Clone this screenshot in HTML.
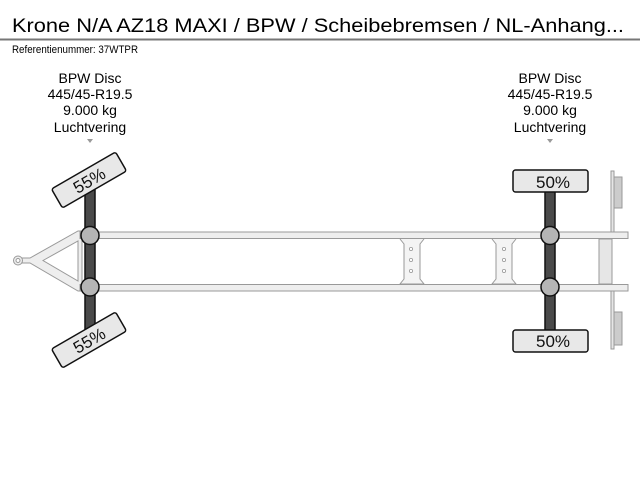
<!DOCTYPE html>
<html><head><meta charset="utf-8"><style>
html,body{margin:0;padding:0;background:#fff;width:640px;height:480px;overflow:hidden}
svg{display:block}
text{font-family:"Liberation Sans",sans-serif}
</style></head><body>
<svg width="640" height="480" viewBox="0 0 640 480" xmlns="http://www.w3.org/2000/svg">
<text x="12" y="32" font-size="19" textLength="612" lengthAdjust="spacingAndGlyphs" fill="#000">Krone N/A AZ18 MAXI / BPW / Scheibebremsen / NL-Anhang...</text>
<rect x="0" y="38.5" width="640" height="2" fill="#777"/>
<text x="12" y="53" font-size="11" textLength="126" lengthAdjust="spacingAndGlyphs" fill="#000">Referentienummer: 37WTPR</text>

<g font-size="14" text-anchor="middle" fill="#000">
<text x="90" y="83">BPW Disc</text>
<text x="90" y="99">445/45-R19.5</text>
<text x="90" y="115">9.000 kg</text>
<text x="90" y="132">Luchtvering</text>
<text x="550" y="83">BPW Disc</text>
<text x="550" y="99">445/45-R19.5</text>
<text x="550" y="115">9.000 kg</text>
<text x="550" y="132">Luchtvering</text>
</g>
<polygon points="87,139 93,139 90,143" fill="#999"/>
<polygon points="547,139 553,139 550,143" fill="#999"/>

<!-- drawbar -->
<g fill="#eee" stroke="#999" stroke-width="1">
<path d="M20,258 L30,258 L78,231 L82,231 L82,291 L78,291 L30,263 L20,263 Z"/>
<path d="M43,260.5 L78,241 L78,281 Z" fill="#fff"/>
<circle cx="18" cy="260.5" r="4.5"/>
<circle cx="18" cy="260.5" r="2" fill="#fff"/>
</g>

<!-- rails -->
<rect x="80" y="232" width="548" height="6.5" fill="#eee" stroke="#999"/>
<rect x="80" y="284.5" width="548" height="6.5" fill="#eee" stroke="#999"/>

<!-- cross members -->
<g fill="#f4f4f4" stroke="#999" stroke-width="1">
<path d="M400,239 L404,244 L404,279 L400,284 L424,284 L420,279 L420,244 L424,239"/>
<path d="M492,239 L496,244 L496,279 L492,284 L516,284 L512,279 L512,244 L516,239"/>
</g>
<g fill="#fff" stroke="#999" stroke-width="0.8">
<circle cx="411" cy="249" r="1.6"/><circle cx="411" cy="260" r="1.6"/><circle cx="411" cy="271" r="1.6"/>
<circle cx="504" cy="249" r="1.6"/><circle cx="504" cy="260" r="1.6"/><circle cx="504" cy="271" r="1.6"/>
</g>

<!-- rear -->
<g fill="#e6e6e6" stroke="#999" stroke-width="1">
<rect x="599" y="239" width="13" height="45"/>
<path d="M601,232 L611,232 L611,171 L614,171 L614,232 L601,232 Z"/>
<path d="M601,291 L611,291 L611,349 L614,349 L614,291 Z"/>
<rect x="614" y="177" width="8" height="31" fill="#ccc"/>
<rect x="614" y="312" width="8" height="33" fill="#ccc"/>
</g>

<!-- axles -->
<g stroke="#111" stroke-width="1.5">
<rect x="85" y="185" width="10" height="150" fill="#4a4a4a"/>
<rect x="545" y="185" width="10" height="150" fill="#4a4a4a"/>
<circle cx="90" cy="235.5" r="9" fill="#b5b5b5"/>
<circle cx="90" cy="287" r="9" fill="#b5b5b5"/>
<circle cx="550" cy="235.5" r="9" fill="#b5b5b5"/>
<circle cx="550" cy="287" r="9" fill="#b5b5b5"/>
</g>

<!-- tyres -->
<g stroke="#111" stroke-width="1.5" fill="#e8e8e8">
<g transform="translate(89,180) rotate(-30)">
<rect x="-37" y="-11" width="74" height="22" rx="2.5"/>
<text x="0" y="6.5" font-size="17" text-anchor="middle" fill="#111" stroke="none">55%</text>
</g>
<g transform="translate(89,340) rotate(-30)">
<rect x="-37" y="-11" width="74" height="22" rx="2.5"/>
<text x="0" y="6.5" font-size="17" text-anchor="middle" fill="#111" stroke="none">55%</text>
</g>
<rect x="513" y="170" width="75" height="22" rx="2.5"/>
<rect x="513" y="330" width="75" height="22" rx="2.5"/>
</g>
<text x="553" y="188" font-size="17" text-anchor="middle" fill="#111">50%</text>
<text x="553" y="347" font-size="17" text-anchor="middle" fill="#111">50%</text>
</svg>
</body></html>
